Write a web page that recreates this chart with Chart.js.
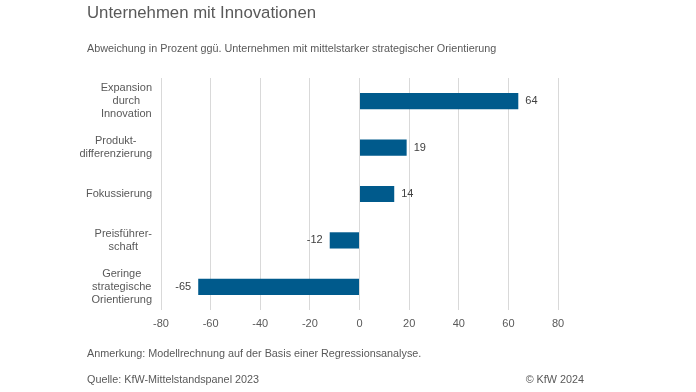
<!DOCTYPE html>
<html>
<head>
<meta charset="utf-8">
<script src="https://cdn.jsdelivr.net/npm/chart.js@4/dist/chart.umd.min.js"></script>
<style>
  html, body { margin: 0; padding: 0; background: #fff; }
  #wrap { position: relative; width: 696px; height: 392px; font-family: "Liberation Sans", Arial, sans-serif; }
  canvas { position: absolute; left: 0; top: 0; }
  .t { position: absolute; white-space: nowrap; color: #595959; font-size: 10.8px; }
</style>
</head>
<body>
<div id="wrap">
  <canvas id="c" width="696" height="392"></canvas>
  <div class="t" style="left:87px; top:3px; font-size:16.75px;">Unternehmen mit Innovationen</div>
  <div class="t" style="left:87px; top:42px;">Abweichung in Prozent ggü. Unternehmen mit mittelstarker strategischer Orientierung</div>
  <div class="t" style="left:87px; top:347px;">Anmerkung: Modellrechnung auf der Basis einer Regressionsanalyse.</div>
  <div class="t" style="left:87px; top:373px;">Quelle: KfW-Mittelstandspanel 2023</div>
  <div class="t" style="right:112px; top:373px;">© KfW 2024</div>
</div>
<script>
const categories = [
  ["Expansion", "durch", "Innovation"],
  ["Produkt-", "differenzierung"],
  ["Fokussierung"],
  ["Preisführer-", "schaft"],
  ["Geringe", "strategische", "Orientierung"]
];
const values = [64, 19, 14, -12, -65];
const xTicks = [-80, -60, -40, -20, 0, 20, 40, 60, 80];

const FONT = '"Liberation Sans", Arial, sans-serif';

const valueLabels = {
  id: 'valueLabels',
  afterDatasetsDraw(chart) {
    const ctx = chart.ctx;
    const meta = chart.getDatasetMeta(0);
    ctx.save();
    ctx.font = '11px ' + FONT;
    ctx.fillStyle = '#404040';
    ctx.textBaseline = 'middle';
    meta.data.forEach((bar, i) => {
      const v = values[i];
      if (v >= 0) {
        ctx.textAlign = 'left';
        ctx.fillText(String(v), bar.x + 7, bar.y);
      } else {
        ctx.textAlign = 'right';
        ctx.fillText(String(v), bar.x - 7, bar.y);
      }
    });
    ctx.restore();
  }
};

// Category labels: multi-line, centred within their own block, block right-aligned
const catLabels = {
  id: 'catLabels',
  afterDraw(chart) {
    const ctx = chart.ctx;
    const y = chart.scales.y;
    const rightEdge = chart.chartArea.left - 9;
    const lh = 12.8;
    ctx.save();
    ctx.font = '11px ' + FONT;
    ctx.fillStyle = '#595959';
    ctx.textBaseline = 'middle';
    ctx.textAlign = 'center';
    chart.data.labels.forEach((lines, i) => {
      const cy = y.getPixelForValue(i);
      const w = Math.max(...lines.map(l => ctx.measureText(l).width));
      const cx = rightEdge - w / 2;
      const y0 = cy - (lines.length - 1) * lh / 2;
      lines.forEach((l, k) => ctx.fillText(l, cx, y0 + k * lh));
    });
    ctx.restore();
  }
};

new Chart(document.getElementById('c'), {
  type: 'bar',
  data: {
    labels: categories,
    datasets: [{
      data: values,
      backgroundColor: '#005a8c',
      borderWidth: 0,
      barPercentage: 0.7,
      categoryPercentage: 0.5
    }]
  },
  options: {
    indexAxis: 'y',
    responsive: false,
    animation: false,
    devicePixelRatio: 1,
    layout: { padding: { left: 0, right: 138, top: 78, bottom: 52 } },
    plugins: { legend: { display: false }, tooltip: { enabled: false } },
    scales: {
      x: {
        min: -80, max: 80,
        afterBuildTicks(scale) { scale.ticks = xTicks.map(v => ({ value: v })); },
        afterFit(scale) { scale.height = 30; },
        grid: { color: '#d9d9d9', lineWidth: 1, drawTicks: false },
        border: { display: false },
        ticks: { color: '#595959', font: { family: FONT, size: 11 }, padding: 7 }
      },
      y: {
        afterFit(scale) { scale.width = 161; },
        grid: { display: false },
        border: { display: false },
        ticks: { display: false }
      }
    }
  },
  plugins: [valueLabels, catLabels]
});
</script>
</body>
</html>
